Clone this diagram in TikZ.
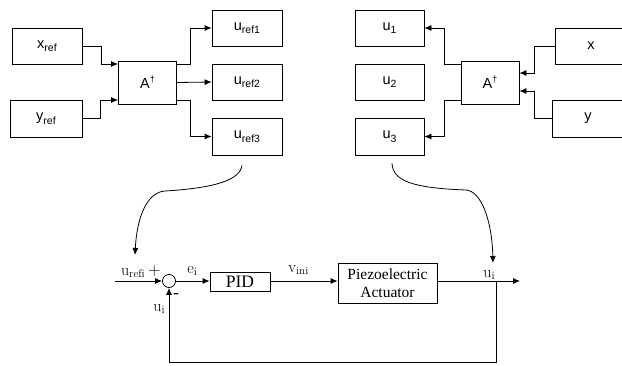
\documentclass[tikz,border=0pt]{standalone}
\usepackage{fontspec}
\setsansfont{Liberation Sans}
\newfontfamily\tnr{Liberation Serif}
\usetikzlibrary{arrows.meta,calc}
\newcommand\ssub[1]{\raisebox{-3.5pt}{\fontsize{10.5}{12}\selectfont #1}}
\newcommand\dagsup{\raisebox{6pt}{\fontsize{9}{10}\selectfont †}}
\begin{document}
\begin{tikzpicture}[x=1pt,y=-1pt,
  line width=0.8pt,
  blk/.style={draw,line width=0.8pt,minimum width=70pt,minimum height=36pt,inner sep=0pt,
    font=\sffamily\fontsize{14.5}{16}\selectfont},
  amat/.style={blk,minimum width=58pt,minimum height=43pt},
  sblk/.style={draw,line width=0.8pt,inner sep=0pt,align=center,
    font=\tnr\fontsize{15.5}{18}\selectfont},
  lbl/.style={inner sep=0pt,font=\fontsize{16}{18}\selectfont},
  arr/.style={-{Latex[length=7pt,width=6pt]}}
]
\useasboundingbox (0,0) rectangle (622,365);

% ---------- top left ----------
\node[blk] (xref) at (47,46) {x\ssub{ref}};
\node[blk,minimum width=72pt,minimum height=37pt] (yref) at (46,118.5) {y\ssub{ref}};
\node[amat] (A1) at (147.5,82.5) {A\dagsup};
\node[blk] (ur1) at (247,28) {u\ssub{ref1}};
\node[blk] (ur2) at (247,82) {u\ssub{ref2}};
\node[blk,minimum height=37pt] (ur3) at (247,136.5) {u\ssub{ref3}};

\draw[arr] (xref.east) -| ($(A1.west)+(-17,-18.5)$) -- ($(A1.west)+(0,-18.5)$);
\draw[arr] (yref.east) -| ($(A1.west)+(-18,17.5)$) -- ($(A1.west)+(0,17.5)$);
\draw[arr] ($(A1.east)+(0,-18.5)$) -| ($(ur1.west)+(-21,0)$) -- (ur1.west);
\draw[arr] (A1.east) -- (ur2.west);
\draw[arr] ($(A1.east)+(0,17.5)$) -| ($(ur3.west)+(-21,0)$) -- (ur3.west);

% ---------- top right ----------
\node[blk,minimum width=69pt] (u1) at (389.5,28) {u\ssub{1}};
\node[blk,minimum width=69pt] (u2) at (389.5,82) {u\ssub{2}};
\node[blk,minimum width=69pt,minimum height=37pt] (u3) at (389.5,136.5) {u\ssub{3}};
\node[amat] (A2) at (490,82.5) {A\dagsup};
\node[blk,minimum width=72pt] (xb) at (591,46) {x};
\node[blk,minimum width=72pt,minimum height=37pt] (yb) at (588,118.5) {y};

\draw[arr] ($(A2.west)+(0,-18.5)$) -| ($(u1.east)+(20,0)$) -- (u1.east);
\draw[arr] ($(A2.west)+(0,17.5)$) -| ($(u3.east)+(20,0)$) -- (u3.east);
\draw[arr] (xb.west) -| ($(A2.east)+(15,-9.5)$) -- ($(A2.east)+(0,-9.5)$);
\draw[arr] (yb.west) -| ($(A2.east)+(15,8.5)$) -- ($(A2.east)+(0,8.5)$);

% ---------- bottom loop ----------
\node[draw,circle,minimum size=13pt,inner sep=0pt,line width=0.8pt] (sum) at (169,281) {};
\node[sblk,minimum width=60pt,minimum height=19pt,font=\tnr\fontsize{17.5}{18}\selectfont] (pid) at (240,281.5) {PID};
\node[sblk,minimum width=99pt,minimum height=40pt] (pz) at (387.5,283) {Piezoelectric\\Actuator};
\coordinate (inL) at (115,281);
\coordinate (outR) at (520,281);
\coordinate (fb) at (496,281);

\draw[arr] (inL) -- (sum.west);
\draw[arr] (sum.east) -- (sum.east -| pid.west);
\draw[arr] (pid.east |- sum.east) -- (sum.east -| pz.west);
\draw[arr] (sum.east -| pz.east) -- (outR);
\draw[arr] (fb) -- ++(0,81) -| (sum.south);

\node[lbl,anchor=base east] (lref) at (161,275) {$\mathrm{u}_{\mathrm{refi}}\,+$};
\node[lbl,anchor=base west] (lei) at (187,273) {$\mathrm{e}_{\mathrm{i}}$};
\node[lbl,anchor=base west] (lvi) at (288,272) {$\mathrm{v}_{\mathrm{ini}}$};
\node[lbl,anchor=base west] (lui) at (483,277) {$\mathrm{u}_{\mathrm{i}}$};
\node[lbl,anchor=base west] (lui2) at (153,311) {$\mathrm{u}_{\mathrm{i}}$};
\node[inner sep=0pt,font=\fontsize{15}{15}\selectfont\bfseries] (lminus) at (176.5,295) {-};

% ---------- curved arrows ----------
\coordinate (s1) at ($(ur3.south)+(-5,10)$);
\coordinate (t1) at (135,255);
\draw[arr] (s1) .. controls (240,180) and (215,188) .. (165,191)
  .. controls (148,192) and (137,215) .. (t1);
\coordinate (s2) at ($(u3.south)+(2.5,8)$);
\coordinate (t2) at (493,263);
\draw[arr] (s2) .. controls (393,180) and (410,188) .. (466,190)
  .. controls (481,191) and (492,220) .. (t2);
\end{tikzpicture}
\end{document}
